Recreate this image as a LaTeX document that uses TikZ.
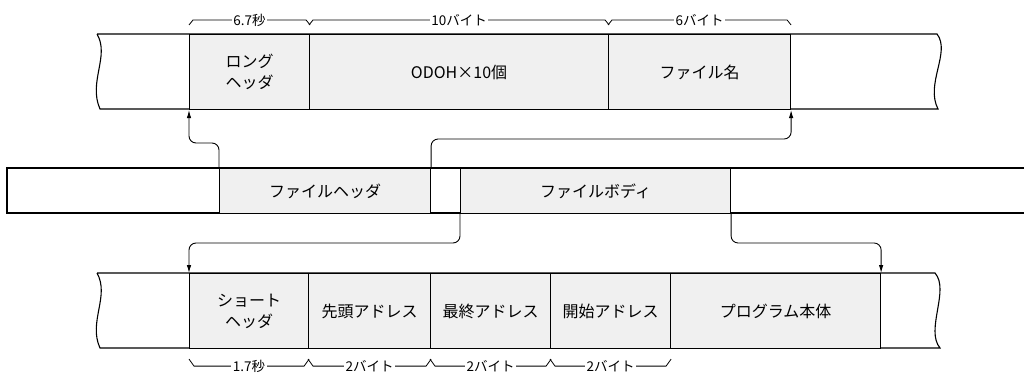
\documentclass[tikz,border=0pt]{standalone}
\usepackage{fontspec}
\setmainfont{Noto Sans CJK JP}
\usetikzlibrary{arrows.meta}

\begin{document}
\begin{tikzpicture}[x=1pt, y=-1pt,
  cell/.style={draw, line width=1.1pt, fill=black!6, anchor=north west, inner sep=0pt, align=center, font=\fontsize{16}{21}\selectfont},
  strip/.style={line width=1.1pt},
  link/.style={line width=0.9pt, rounded corners=7pt, -{Latex[length=8pt,width=4.5pt]}},
  dim/.style={line width=0.8pt},
  dimlabel/.style={fill=white, inner sep=1.5pt, font=\fontsize{13.5}{15}\selectfont}]
\useasboundingbox (0,0) rectangle (1027,374);

% upper strip
\draw[strip] (97,34) -- (937,34) .. controls (951,52) and (925,84) .. (938,109) -- (100,109) .. controls (88,82) and (110,56) .. (97,34);
\node[cell, minimum width=120pt, minimum height=75pt] (lhdr) at (189,34) {ロング\\ヘッダ};
\node[cell, minimum width=299pt, minimum height=75pt] (odoh) at (309,34) {ODOH×10個};
\node[cell, minimum width=182pt, minimum height=75pt] (fname) at (608,34) {ファイル名};

% middle strip
\draw[strip] (1024,168) -- (7,168) -- (7,213) -- (1024,213);
\node[cell, minimum width=211pt, minimum height=45pt] (fhdr) at (219,168) {ファイルヘッダ};
\node[cell, minimum width=270pt, minimum height=45pt] (fbody) at (460,168) {ファイルボディ};

% lower strip
\draw[strip] (97,273) -- (935,273) .. controls (950,290) and (925,330) .. (940,348) -- (100,348) .. controls (88,322) and (110,296) .. (97,273);
\node[cell, minimum width=119pt, minimum height=75pt] (shdr) at (189,273) {ショート\\ヘッダ};
\node[cell, minimum width=122pt, minimum height=75pt] (saddr) at (308,273) {先頭アドレス};
\node[cell, minimum width=120pt, minimum height=75pt] (eaddr) at (430,273) {最終アドレス};
\node[cell, minimum width=120pt, minimum height=75pt] (xaddr) at (550,273) {開始アドレス};
\node[cell, minimum width=210pt, minimum height=75pt] (prog) at (670,273) {プログラム本体};

% connectors
\coordinate (up1) at (0,143);
\coordinate (up2) at (0,139);
\coordinate (dn) at (0,243);
\draw[link] (fhdr.north west) -- (fhdr.north west |- up1) -| (lhdr.south west);
\draw[link] (fhdr.north east) -- (fhdr.north east |- up2) -| (fname.south east);
\draw[link] (fbody.south west) -- (fbody.south west |- dn) -| (shdr.north west);
\draw[link] (fbody.south east) -- (fbody.south east |- dn) -| (prog.north east);

% sizes above
\draw[dim] ([yshift=9pt]lhdr.north west) -- ++(4pt,5pt) -- node[dimlabel] (t1) {6.7秒} ([shift={(-4pt,14pt)}]lhdr.north east) -- ([yshift=9pt]lhdr.north east);
\draw[dim] ([yshift=9pt]odoh.north west) -- ++(4pt,5pt) -- node[dimlabel] (t2) {10バイト} ([shift={(-4pt,14pt)}]odoh.north east) -- ([yshift=9pt]odoh.north east);
\draw[dim] ([yshift=9pt]fname.north west) -- ++(4pt,5pt) -- node[dimlabel] (t3) {6バイト} ([shift={(-4pt,14pt)}]fname.north east) -- ([yshift=9pt]fname.north east);

% sizes below
\draw[dim] ([yshift=-10pt]shdr.south west) -- ++(5pt,-7pt) -- node[dimlabel] (b1) {1.7秒} ([shift={(-5pt,-17pt)}]shdr.south east) -- ([yshift=-10pt]shdr.south east);
\draw[dim] ([yshift=-10pt]saddr.south west) -- ++(5pt,-7pt) -- node[dimlabel] (b2) {2バイト} ([shift={(-5pt,-17pt)}]saddr.south east) -- ([yshift=-10pt]saddr.south east);
\draw[dim] ([yshift=-10pt]eaddr.south west) -- ++(5pt,-7pt) -- node[dimlabel] (b3) {2バイト} ([shift={(-5pt,-17pt)}]eaddr.south east) -- ([yshift=-10pt]eaddr.south east);
\draw[dim] ([yshift=-10pt]xaddr.south west) -- ++(5pt,-7pt) -- node[dimlabel] (b4) {2バイト} ([shift={(-5pt,-17pt)}]xaddr.south east) -- ([yshift=-10pt]xaddr.south east);
\end{tikzpicture}
\end{document}
